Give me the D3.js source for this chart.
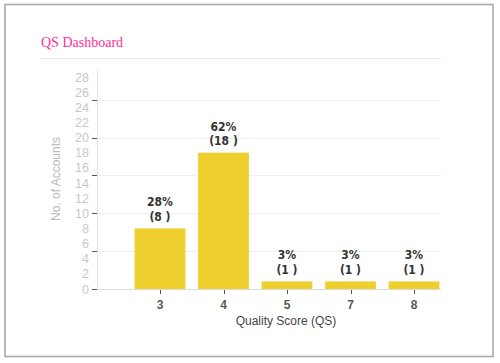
<!DOCTYPE html>
<html>
<head>
<meta charset="utf-8">
<script src="https://d3js.org/d3.v7.min.js"></script>
<style>
  body { margin: 0; background: #fff; }
</style>
</head>
<body>
<svg id="chart" width="500" height="363"></svg>
<script>
// data
var scores = ["3", "4", "5", "7", "8"];
var accounts = [8, 18, 1, 1, 1];
var yTickLabels = [0, 2, 4, 6, 8, 10, 12, 14, 16, 18, 20, 22, 24, 26, 28];
var gridValues = [0, 5, 10, 15, 20, 25];

var total = d3.sum(accounts);
var svg = d3.select("#chart");

// frame
svg.append("rect")
  .attr("x", 5).attr("y", 4.5)
  .attr("width", 488).attr("height", 352)
  .attr("fill", "none").attr("stroke", "#a9a9a9").attr("stroke-width", 1.6);

svg.append("text")
  .attr("x", 41).attr("y", 47)
  .attr("font-family", "Liberation Serif, serif")
  .attr("font-size", 14)
  .attr("fill", "#ff2e9a")
  .text("QS Dashboard");

svg.append("line")
  .attr("x1", 41).attr("x2", 441).attr("y1", 58.5).attr("y2", 58.5)
  .attr("stroke", "#e6e6e6");

var x = d3.scaleBand().domain(scores).range([128.25, 445.75])
  .paddingInner(0.2).paddingOuter(0.1);
var y = d3.scaleLinear().domain([0, 28]).range([289, 77]);

var left = 97, right = 441;

// grid lines
svg.append("g").selectAll("line").data(gridValues).join("line")
  .attr("x1", left).attr("x2", right)
  .attr("y1", d => Math.round(y(d)) + 0.5).attr("y2", d => Math.round(y(d)) + 0.5)
  .attr("stroke", "#efefef");

// y axis
svg.append("line")
  .attr("x1", left + 0.5).attr("x2", left + 0.5)
  .attr("y1", y(29.1)).attr("y2", y(0))
  .attr("stroke", "#e3e3e3");

svg.append("g").selectAll("line").data(gridValues).join("line")
  .attr("x1", left - 5).attr("x2", left)
  .attr("y1", d => Math.round(y(d)) + 0.5).attr("y2", d => Math.round(y(d)) + 0.5)
  .attr("stroke", "#555");

svg.append("g").selectAll("text").data(yTickLabels).join("text")
  .attr("x", 89).attr("y", d => y(d) + 4.5)
  .attr("text-anchor", "end")
  .attr("font-family", "Liberation Sans Narrow, Liberation Sans, Arial, sans-serif")
  .attr("font-size", 12.5)
  .attr("fill", "#c8c8c8")
  .text(d => d);

svg.append("text")
  .attr("transform", "translate(60,179) rotate(-90)")
  .attr("text-anchor", "middle")
  .attr("font-family", "Liberation Sans, Arial, sans-serif")
  .attr("font-size", 12)
  .attr("fill", "#bababa")
  .text("No. of Accounts");

// x axis
svg.append("line")
  .attr("x1", left).attr("x2", right)
  .attr("y1", 289.5).attr("y2", 289.5)
  .attr("stroke", "#dcdcdc");

// bars
svg.append("g").selectAll("rect").data(accounts).join("rect")
  .attr("x", (d, i) => x(scores[i]))
  .attr("width", x.bandwidth())
  .attr("y", d => y(d))
  .attr("height", d => y(0) - y(d))
  .attr("fill", "#efcf2e");

// x ticks
svg.append("g").selectAll("line").data(scores).join("line")
  .attr("x1", d => Math.round(x(d) + x.bandwidth() / 2) + 0.5)
  .attr("x2", d => Math.round(x(d) + x.bandwidth() / 2) + 0.5)
  .attr("y1", 290).attr("y2", 294)
  .attr("stroke", "#555");

svg.append("g").selectAll("text").data(scores).join("text")
  .attr("x", d => x(d) + x.bandwidth() / 2)
  .attr("y", 308.5)
  .attr("text-anchor", "middle")
  .attr("font-family", "Liberation Sans, Arial, sans-serif")
  .attr("font-size", 12)
  .attr("font-weight", "bold")
  .attr("fill", "#595959")
  .text(d => d);

svg.append("text")
  .attr("x", 286).attr("y", 325)
  .attr("text-anchor", "middle")
  .attr("font-family", "Liberation Sans, Arial, sans-serif")
  .attr("font-size", 12)
  .attr("fill", "#444")
  .text("Quality Score (QS)");

// value labels
var labels = svg.append("g").selectAll("text").data(accounts).join("text")
  .attr("text-anchor", "middle")
  .attr("font-family", "DejaVu Sans Condensed, DejaVu Sans, sans-serif")
  .attr("font-size", 12)
  .attr("font-weight", "bold")
  .attr("fill", "#333");
labels.append("tspan")
  .attr("x", (d, i) => x(scores[i]) + x.bandwidth() / 2)
  .attr("y", d => y(d) - 22)
  .text(d => Math.round(d / total * 100) + "%");
labels.append("tspan")
  .attr("x", (d, i) => x(scores[i]) + x.bandwidth() / 2)
  .attr("y", d => y(d) - 7.5)
  .text(d => "(" + d + " )");
</script>
</body>
</html>
